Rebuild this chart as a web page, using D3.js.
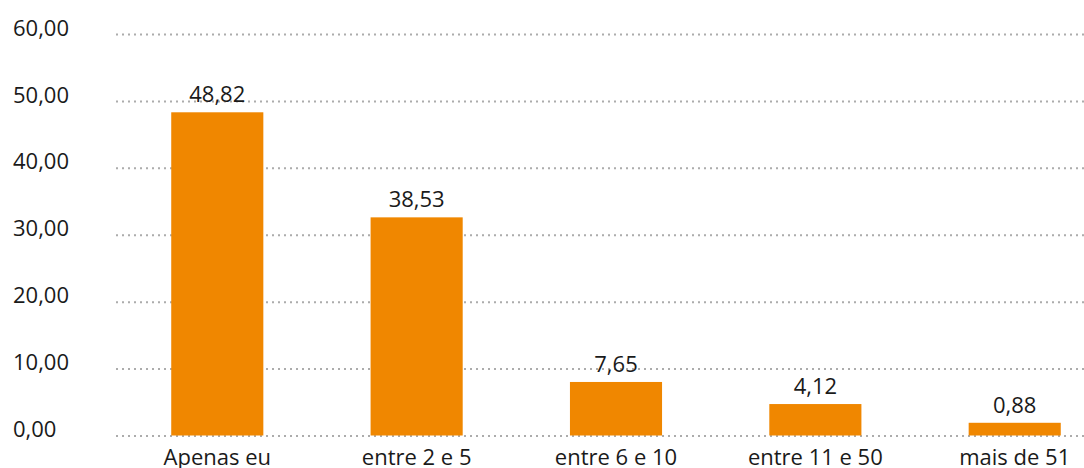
<!DOCTYPE html>
<html>
<head>
<meta charset="utf-8">
<script src="https://cdn.jsdelivr.net/npm/d3@7"></script>
<style>
  body { margin: 0; background: #fff; }
  svg text { font-family: "Open Sans", sans-serif; fill: #1a1a1a; }
</style>
</head>
<body>
<div id="chart"></div>
<script>
// categories and values
var categories = ["Apenas eu", "entre 2 e 5", "entre 6 e 10", "entre 11 e 50", "mais de 51"];
var valueLabels = [48.82, 38.53, 7.65, 4.12, 0.88];
// the bar heights as drawn in the reference (they do not follow the labels exactly)
var barHeights = [48.3, 32.6, 8.0, 4.7, 1.9];
var yTicks = [0, 10, 20, 30, 40, 50, 60];

var svgWidth = 1084, svgHeight = 468;

var ptBR = d3.formatLocale({decimal: ",", thousands: ".", grouping: [3], currency: ["R$", ""]});
var fmt = ptBR.format(".2f");

var svg = d3.select("#chart").append("svg")
  .attr("width", svgWidth)
  .attr("height", svgHeight);

// scales
var x = d3.scaleBand()
  .domain(categories)
  .range([120, 1112])
  .paddingInner(0.538)
  .paddingOuter(0.257);

var y = d3.scaleLinear()
  .domain([0, 60])
  .range([435.5, 34]);

// y axis + dotted grid lines
var gridLeft = 112;
var yAxis = svg.append("g")
  .attr("transform", `translate(${svgWidth}, 0)`)
  .call(d3.axisLeft(y).tickValues(yTicks).tickFormat(fmt).tickSize(svgWidth - gridLeft));

yAxis.select(".domain").remove();
yAxis.selectAll("line")
  .attr("stroke", "#acacac")
  .attr("stroke-width", 2)
  .attr("stroke-dasharray", "2,4");
yAxis.selectAll("text")
  .attr("x", 13 - svgWidth)
  .attr("dy", "0.05em")
  .attr("text-anchor", "start")
  .style("font-size", "22px");

// bars
svg.append("g").selectAll("rect")
  .data(categories)
  .enter()
  .append("rect")
  .attr("x", d => x(d))
  .attr("width", x.bandwidth())
  .attr("y", (d, i) => y(barHeights[i]))
  .attr("height", (d, i) => y(0) - y(barHeights[i]))
  .attr("fill", "#f08700");

// value labels above the bars
svg.append("g").selectAll("text")
  .data(categories)
  .enter()
  .append("text")
  .attr("x", d => x(d) + x.bandwidth() / 2)
  .attr("y", (d, i) => y(barHeights[i]) - 10)
  .attr("text-anchor", "middle")
  .style("font-size", "22px")
  .text((d, i) => fmt(valueLabels[i]));

// x axis labels
var xAxis = svg.append("g")
  .attr("transform", `translate(0, ${y(0)})`)
  .call(d3.axisBottom(x).tickSize(0));

xAxis.select(".domain").remove();
xAxis.selectAll("text")
  .attr("y", 29.5)
  .attr("dy", 0)
  .style("font-size", "22px");
</script>
</body>
</html>
